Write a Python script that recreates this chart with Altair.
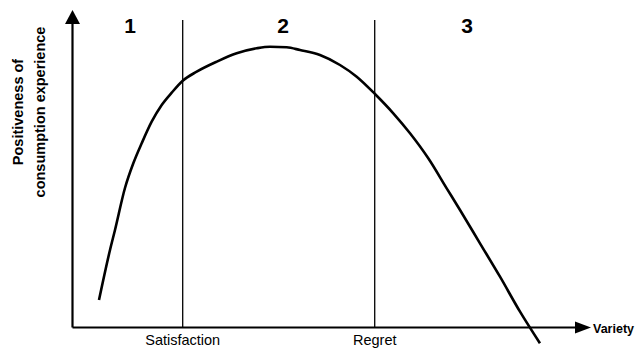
import altair as alt
import pandas as pd

# ---- data (abstract units: Variety 0..10, Positiveness 0..10) ----
curve_x = [0.515, 0.729, 0.826, 1.020, 1.182, 1.345, 1.539, 1.734, 1.928, 2.142,
           2.414, 2.803, 3.191, 3.580, 3.839, 4.163, 4.422, 4.810, 5.199, 5.524,
           5.879, 6.235, 6.560, 6.915, 7.273, 7.532, 7.920, 8.309, 8.698, 9.086]
curve_y = [0.866, 2.441, 3.071, 4.394, 5.172, 5.802, 6.482, 7.008, 7.395, 7.773,
           8.057, 8.372, 8.636, 8.794, 8.844, 8.825, 8.740, 8.583, 8.268, 7.899,
           7.354, 6.746, 6.117, 5.329, 4.384, 3.701, 2.652, 1.600, 0.498, -0.498]

threshold_names = ["Satisfaction", "Regret"]
threshold_x = [2.142, 5.874]
threshold_top = [9.685, 9.685]
threshold_label_y = [-0.551, -0.551]

stage_labels = ["1", "2", "3"]
stage_x = [1.118, 4.091, 7.668]
stage_y = [9.45, 9.45, 9.45]

ylabel_lines = ["Positiveness of", "consumption experience"]
ylabel_x = [-1.040, -0.612]
ylabel_y = [6.787, 6.787]

xlabel = ["Variety"]
xlabel_x = [10.117]
xlabel_y = [-0.047]

# axis lines and arrow heads
axis_x0 = [0.0, 0.0]
axis_x1 = [0.0, 9.8]
axis_y0 = [0.0, 0.0]
axis_y1 = [9.6, 0.0]

X_DOMAIN = [-1.2536, 10.933]
Y_DOMAIN = [-0.6457, 10.063]

FONT = "Liberation Sans, Arial, Helvetica, sans-serif"

xs = alt.Scale(domain=X_DOMAIN, nice=False, zero=False)
ys = alt.Scale(domain=Y_DOMAIN, nice=False, zero=False)


def X(f):
    return alt.X(f, type="quantitative", scale=xs, axis=None)


def Y(f):
    return alt.Y(f, type="quantitative", scale=ys, axis=None)


curve_df = pd.DataFrame({"x": curve_x, "y": curve_y})
thr_df = pd.DataFrame({"name": threshold_names, "x": threshold_x,
                       "top": threshold_top, "ly": threshold_label_y})
stage_df = pd.DataFrame({"t": stage_labels, "x": stage_x, "y": stage_y})
ylab_df = pd.DataFrame({"t": ylabel_lines, "x": ylabel_x, "y": ylabel_y})
xlab_df = pd.DataFrame({"t": xlabel, "x": xlabel_x, "y": xlabel_y})
axis_df = pd.DataFrame({"x0": axis_x0, "x1": axis_x1, "y0": axis_y0, "y1": axis_y1})
yarrow_df = pd.DataFrame({"x": [0.0], "y": [9.78]})
xarrow_df = pd.DataFrame({"x": [9.922], "y": [0.0]})

curve = alt.Chart(curve_df).mark_line(
    color="black", strokeWidth=2.6, interpolate="monotone"
).encode(x=X("x"), y=Y("y"))

thr_rules = alt.Chart(thr_df).mark_rule(color="black", strokeWidth=1.3).encode(
    x=X("x"), y=Y("top"), y2=alt.Y2("ly0:Q")
).transform_calculate(ly0="0")

thr_text = alt.Chart(thr_df).mark_text(
    font=FONT, fontSize=14.5, color="black", baseline="alphabetic", align="center"
).encode(x=X("x"), y=Y("ly"), text="name:N")

axes = alt.Chart(axis_df).mark_rule(color="black", strokeWidth=2.2).encode(
    x=X("x0"), x2="x1:Q", y=Y("y0"), y2="y1:Q"
)

yarrow = alt.Chart(yarrow_df).mark_point(
    shape="M0,-0.933L1,0.933L-1,0.933Z", size=225, filled=True,
    color="black", opacity=1, strokeWidth=0
).encode(x=X("x"), y=Y("y"))

xarrow = alt.Chart(xarrow_df).mark_point(
    shape="M1,0L-1,0.75L-1,-0.75Z", size=256, filled=True,
    color="black", opacity=1, strokeWidth=0
).encode(x=X("x"), y=Y("y"))

stage_text = alt.Chart(stage_df).mark_text(
    font=FONT, fontSize=21, fontWeight="bold", color="black",
    baseline="middle", align="center"
).encode(x=X("x"), y=Y("y"), text="t:N")

ylab_text = alt.Chart(ylab_df).mark_text(
    font=FONT, fontSize=14.5, fontWeight="bold", color="black",
    baseline="middle", align="center", angle=270
).encode(x=X("x"), y=Y("y"), text="t:N")

xlab_text = alt.Chart(xlab_df).mark_text(
    font=FONT, fontSize=12.5, fontWeight="bold", color="black",
    baseline="middle", align="left"
).encode(x=X("x"), y=Y("y"), text="t:N")

chart = alt.layer(
    axes, thr_rules, curve, yarrow, xarrow, stage_text, thr_text, ylab_text, xlab_text
).properties(
    width=627, height=340, padding=0,
    autosize=alt.AutoSizeParams(type="none"),
    background="white",
).configure_view(stroke=None)

chart.save("out.html", embed_options={"renderer": "svg", "actions": False})
